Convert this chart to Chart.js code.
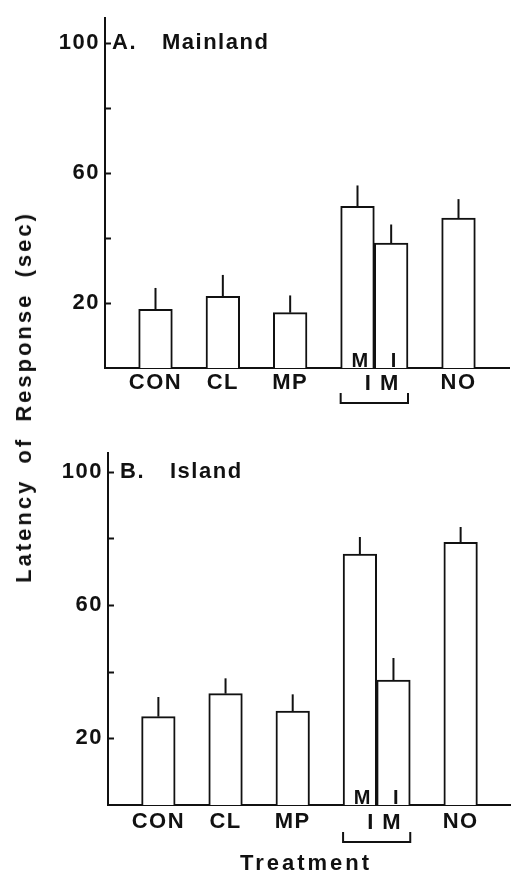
<!DOCTYPE html>
<html>
<head>
<meta charset="utf-8">
<script src="https://cdn.jsdelivr.net/npm/chart.js@4.4.1/dist/chart.umd.min.js"></script>
<style>
  html, body { margin: 0; padding: 0; background: #fff; }
  #wrap { position: relative; width: 511px; height: 876px; overflow: hidden; }
  canvas { position: absolute; left: 0; }
  #cTop { top: 0; }
  #cBot { top: 430px; }
  .lbl { position: absolute; font: bold 22px "Liberation Sans", Arial, sans-serif; color: #111; white-space: nowrap; letter-spacing: 3px; }
  #yTitle { left: 24px; top: 397px; transform: translate(-50%, -50%) rotate(-90deg); word-spacing: 6px; }
  #xTitle { left: 306px; top: 863px; transform: translate(-50%, -50%); }
</style>
</head>
<body>
<div id="wrap">
  <canvas id="cTop" width="511" height="430"></canvas>
  <canvas id="cBot" width="511" height="446"></canvas>
  <div class="lbl" id="yTitle">Latency of Response (sec)</div>
  <div class="lbl" id="xTitle">Treatment</div>
</div>
<script>
// ====== DADOS ======
const slotLabels = ['', 'CON', '', 'CL', '', 'MP', '', '', '', '', 'NO', ''];
const barSlots = [1, 3, 5, 7, 8, 10];   // CON, CL, MP, IM(M), IM(I), NO
const insideLabels = ['', '', '', 'M', 'I', ''];
const groupLabel = 'I M';

const mainlandMean = [18, 22, 17, 49.7, 38.4, 46.1];
const mainlandErr = [6.6, 6.6, 5.3, 6.4, 5.7, 5.8];
const islandMean = [26.5, 33.4, 28.2, 75.3, 37.5, 78.8];
const islandErr = [5.9, 4.6, 5.0, 5.1, 6.6, 4.6];
const yLabelled = [20, 60, 100];

const INK = '#111';
const FONT = '"Liberation Sans", Arial, sans-serif';

Chart.defaults.font.family = FONT;
Chart.defaults.font.size = 22;
Chart.defaults.font.weight = 'bold';
Chart.defaults.color = INK;

function toSlots(values) {
  const arr = slotLabels.map(() => null);
  barSlots.forEach((s, i) => { arr[s] = values[i]; });
  return arr;
}

// desenha barras de erro, ticks internos, rótulos extras
const decor = {
  id: 'decor',
  beforeDraw(chart) {
    chart.ctx.letterSpacing = '1.5px';
  },
  afterDatasetsDraw(chart, args, opts) {
    const ctx = chart.ctx;
    const y = chart.scales.y;
    const area = chart.chartArea;
    const meta = chart.getDatasetMeta(0);
    ctx.save();
    ctx.strokeStyle = INK;
    ctx.fillStyle = INK;
    ctx.lineWidth = 2;

    // ticks para dentro
    y.ticks.forEach(t => {
      if (t.value === 0) return;
      const py = Math.round(y.getPixelForValue(t.value)) + 0.5;
      ctx.beginPath();
      ctx.moveTo(area.left, py);
      ctx.lineTo(area.left + 6, py);
      ctx.stroke();
    });

    // barras de erro (só para cima)
    barSlots.forEach((s, i) => {
      const el = meta.data[s];
      const top = y.getPixelForValue(opts.mean[i] + opts.err[i]);
      ctx.beginPath();
      ctx.moveTo(el.x, el.y);
      ctx.lineTo(el.x, top);
      ctx.stroke();
    });

    // letras dentro das barras
    ctx.font = 'bold 20px ' + FONT;
    ctx.textAlign = 'center';
    ctx.textBaseline = 'alphabetic';
    barSlots.forEach((s, i) => {
      if (!insideLabels[i]) return;
      const el = meta.data[s];
      ctx.fillText(insideLabels[i], el.x + 3, area.bottom - 1);
    });

    // rótulo do grupo + colchete
    const a = meta.data[barSlots[3]];
    const b = meta.data[barSlots[4]];
    const mid = (a.x + b.x) / 2;
    ctx.font = 'bold 22px ' + FONT;
    ctx.textBaseline = 'middle';
    ctx.fillText(groupLabel, mid + 8, area.bottom + opts.labelDy);
    const bl = a.x - a.width / 2, br = b.x + b.width / 2;
    const by = area.bottom + opts.bracketDy;
    ctx.beginPath();
    ctx.moveTo(bl, by - 10);
    ctx.lineTo(bl, by);
    ctx.lineTo(br, by);
    ctx.lineTo(br, by - 10);
    ctx.stroke();

    // título do painel
    const ty = y.getPixelForValue(100);
    ctx.textAlign = 'left';
    ctx.fillText(opts.title[0], area.left + opts.titleDx[0], ty);
    ctx.fillText(opts.title[1], area.left + opts.titleDx[1], ty);
    ctx.restore();
  }
};

function makeChart(id, mean, err, cfg) {
  return new Chart(document.getElementById(id), {
    type: 'bar',
    data: {
      labels: slotLabels,
      datasets: [{
        data: toSlots(mean),
        backgroundColor: '#fff',
        borderColor: INK,
        borderWidth: 2,
        barPercentage: 1,
        categoryPercentage: 1
      }]
    },
    options: {
      responsive: false,
      animation: false,
      layout: { padding: { top: cfg.padTop, right: cfg.padRight, left: 0, bottom: 0 } },
      plugins: {
        legend: { display: false },
        tooltip: { enabled: false },
        decor: {
          mean, err,
          title: cfg.title,
          titleDx: cfg.titleDx,
          labelDy: cfg.labelDy,
          bracketDy: cfg.bracketDy
        }
      },
      scales: {
        x: {
          grid: { display: false, drawTicks: false },
          border: { display: true, color: INK, width: 2 },
          ticks: { autoSkip: false, maxRotation: 0, padding: cfg.xPad },
          afterFit: s => { s.height = cfg.xHeight; }
        },
        y: {
          min: 0,
          max: cfg.yMax,
          grid: { display: false, drawTicks: false },
          border: { display: true, color: INK, width: 2 },
          ticks: {
            stepSize: 20,
            includeBounds: false,
            padding: 5,
            callback: v => yLabelled.includes(v) ? v : ''
          },
          afterFit: s => { s.width = cfg.yWidth; }
        }
      }
    },
    plugins: [decor]
  });
}

// ====== INICIALIZAÇÃO ======
makeChart('cTop', mainlandMean, mainlandErr, {
  padTop: 8, padRight: 2, yMax: 107.5, yWidth: 105, xHeight: 62, xPad: 2,
  title: ['A.', 'Mainland'], titleDx: [7, 57], labelDy: 15.5, bracketDy: 35
});
makeChart('cBot', islandMean, islandErr, {
  padTop: 23, padRight: 0, yMax: 105.6, yWidth: 108, xHeight: 71, xPad: 4,
  title: ['B.', 'Island'], titleDx: [12, 62], labelDy: 17.5, bracketDy: 37
});
</script>
</body>
</html>
